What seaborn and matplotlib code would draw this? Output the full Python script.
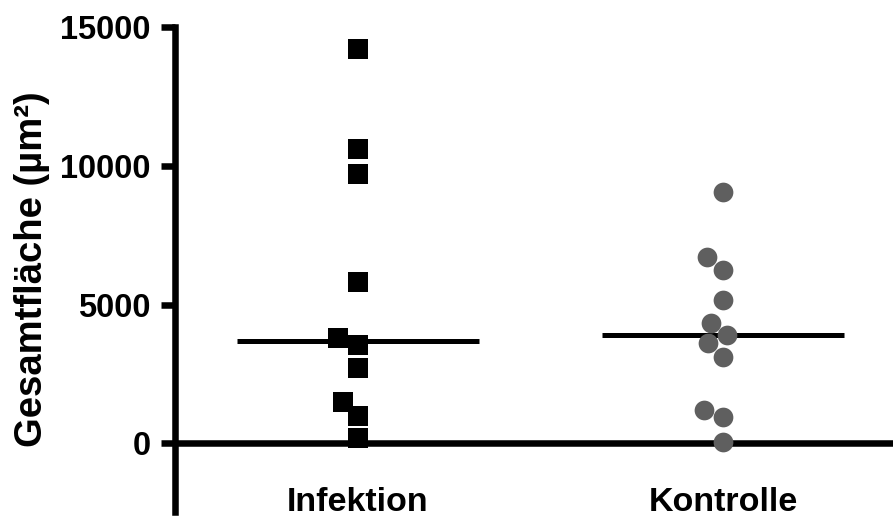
import numpy as np
import pandas as pd
import matplotlib
matplotlib.use("Agg")
import matplotlib.pyplot as plt
import seaborn as sns

groups = ["Infektion", "Kontrolle"]
infektion = [14200, 10600, 9700, 5800, 3800, 3550, 2700, 1500, 1000, 200]
kontrolle = [9050, 6700, 6250, 5150, 4350, 3900, 3600, 3100, 1200, 950, 50]
yticks = [0, 5000, 10000, 15000]
ylabel = "Gesamtfläche (µm²)"

df = pd.DataFrame({
    "group": [groups[0]] * len(infektion) + [groups[1]] * len(kontrolle),
    "value": infektion + kontrolle,
})

sns.set_theme(style="white")
plt.rcParams["font.family"] = ["Liberation Sans", "DejaVu Sans"]
plt.rcParams["font.weight"] = "bold"
for k in ["text.color", "axes.labelcolor", "xtick.color", "ytick.color"]:
    plt.rcParams[k] = "black"

fig = plt.figure(figsize=(8.93, 5.21), dpi=100)
ax = fig.add_axes([0.1965, 0.0173, 0.8035, 0.9318])

lw = 4.7
sns.swarmplot(data=df[df.group == groups[0]], x="group", y="value", order=groups,
              marker="s", color="black", size=14.4, linewidth=0, ax=ax, zorder=4)
sns.swarmplot(data=df[df.group == groups[1]], x="group", y="value", order=groups,
              marker="o", color="#5f5f5f", size=14.2, linewidth=0, ax=ax, zorder=4)

vals = [infektion, kontrolle]
for i, v in enumerate(vals):
    ax.hlines(np.median(v), i - 0.331, i + 0.331, color="black", lw=3.6, zorder=3)

ax.axhline(0, color="black", lw=lw, zorder=2, solid_capstyle="butt")

ax.set_xlim(-0.5, 1.466)
ax.set_ylim(-2464, 15000)
ax.set_yticks(yticks)
ax.set_yticklabels([str(t) for t in yticks], fontsize=23.5, fontweight="bold")
ax.set_xticks([0, 1])
ax.set_xticklabels(groups, fontsize=24.5, fontweight="bold")
ax.tick_params(axis="x", length=0, pad=-18)
ax.tick_params(axis="y", length=10, width=lw, color="black", pad=8, left=True)
ax.set_xlabel("")
ax.set_ylabel(ylabel, fontsize=27.5, fontweight="bold", labelpad=7)

for s in ["top", "right", "bottom"]:
    ax.spines[s].set_visible(False)
ax.spines["left"].set_linewidth(lw)
ax.spines["left"].set_color("black")
ax.patch.set_alpha(0)

fig.savefig("out.png", dpi=100)
